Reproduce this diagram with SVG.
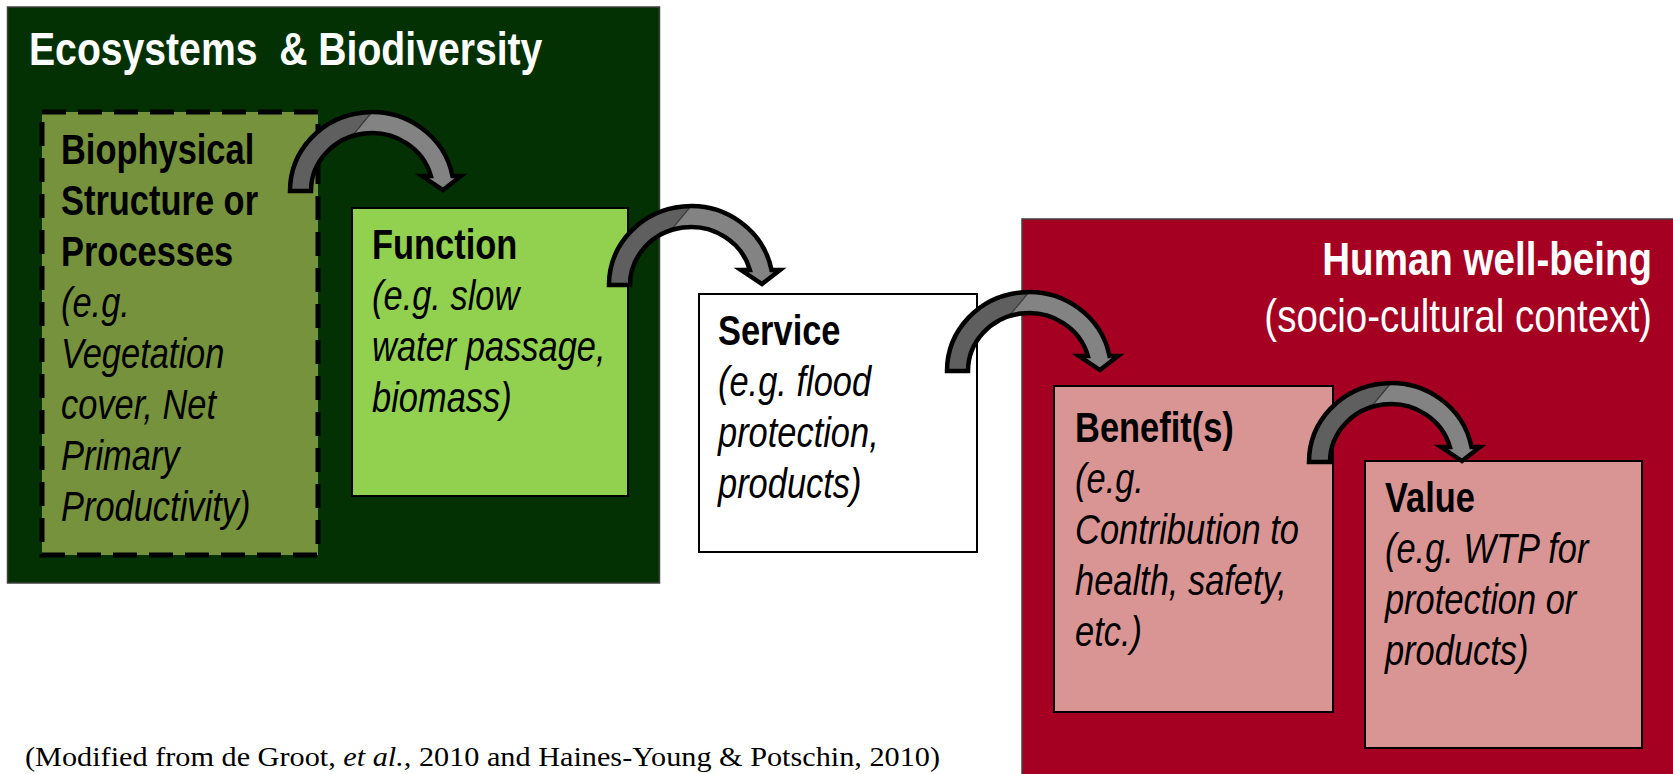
<svg xmlns="http://www.w3.org/2000/svg" xmlns:xlink="http://www.w3.org/1999/xlink" width="1673" height="774" viewBox="0 0 1673 774">
<style>
.t{font-family:"Liberation Sans",Arial,sans-serif;fill:#000}
.b{font-weight:bold;font-size:42px}
.i{font-style:italic;font-size:42px}
.w{fill:#fff}
.big{font-size:47px}
.box{stroke:#000;stroke-width:2}
.outer{stroke:#404040;stroke-width:1.5}
.dark{fill:#5f5f5f}
.light{fill:#838383}
.edge{fill:none;stroke:#000;stroke-width:4.5;stroke-linejoin:miter;stroke-miterlimit:6}
.seam{fill:none;stroke:#3a3a3a;stroke-width:1.2}
.cite{font-family:"Liberation Serif","Times New Roman",serif;font-size:28px;fill:#000}
</style>
<defs>
<g id="curvedArrow">
<path class="dark" d="M2,0 A82,79 0 0 1 84,-79 L64,-54.8 A61,58 0 0 0 23,0 Z"/>
<path class="light" d="M84,-79 A82,79 0 0 1 164.5,-15 L173,-15 L155,-1 L134,-15 L142.9,-15 A61,58 0 0 0 64,-54.8 Z"/>
<path class="seam" d="M84,-79 L64,-54.8"/>
<path class="edge" d="M2,0 A82,79 0 0 1 164.5,-15 L173,-15 L155,-1 L134,-15 L142.9,-15 A61,58 0 0 0 23,0 Z"/>
</g>
</defs>
<rect width="1673" height="774" fill="#fff"/>

<g id="ecosystems">
<rect class="outer" x="7.5" y="7" width="652" height="576" fill="#033103"/>
<g transform="scale(0.82 1)">
<text class="t b w big" x="35.4" y="65" textLength="626" lengthAdjust="spacingAndGlyphs" xml:space="preserve">Ecosystems  &amp; Biodiversity</text>
</g>
</g>

<g id="biophysical">
<rect x="42" y="112" width="276" height="443" fill="#76923c" stroke="#000" stroke-width="5" stroke-dasharray="24 12"/>
<g transform="scale(0.82 1)">
<text class="t b" x="74.4" y="164">Biophysical</text>
<text class="t b" x="74.4" y="215">Structure or</text>
<text class="t b" x="74.4" y="266">Processes</text>
<text class="t i" x="74.4" y="317">(e.g.</text>
<text class="t i" x="74.4" y="368">Vegetation</text>
<text class="t i" x="74.4" y="419">cover, Net</text>
<text class="t i" x="74.4" y="470">Primary</text>
<text class="t i" x="74.4" y="521">Productivity)</text>
</g>
</g>

<g id="function">
<rect class="box" x="352" y="208" width="276" height="288" fill="#92d050"/>
<g transform="scale(0.82 1)">
<text class="t b" x="453.7" y="259">Function</text>
<text class="t i" x="453.7" y="310">(e.g. slow</text>
<text class="t i" x="453.7" y="361">water passage,</text>
<text class="t i" x="453.7" y="412">biomass)</text>
</g>
</g>

<g id="service">
<rect class="box" x="699" y="294" width="278" height="258" fill="#fff"/>
<g transform="scale(0.82 1)">
<text class="t b" x="875.6" y="345">Service</text>
<text class="t i" x="875.6" y="396">(e.g. flood</text>
<text class="t i" x="875.6" y="447">protection,</text>
<text class="t i" x="875.6" y="498">products)</text>
</g>
</g>

<g id="human-wellbeing">
<rect class="outer" x="1022" y="219" width="670" height="580" fill="#a50021"/>
<g transform="scale(0.82 1)">
<text class="t b w big" x="2014.6" y="275" text-anchor="end">Human well-being</text>
<text class="t w big" x="2014.6" y="332" text-anchor="end">(socio-cultural context)</text>
</g>
</g>

<g id="benefits">
<rect class="box" x="1054" y="386" width="279" height="326" fill="#d99594"/>
<g transform="scale(0.82 1)">
<text class="t b" x="1311" y="442">Benefit(s)</text>
<text class="t i" x="1311" y="493">(e.g.</text>
<text class="t i" x="1311" y="544">Contribution to</text>
<text class="t i" x="1311" y="595">health, safety,</text>
<text class="t i" x="1311" y="646">etc.)</text>
</g>
</g>

<g id="value">
<rect class="box" x="1365" y="461" width="277" height="287" fill="#d99594"/>
<g transform="scale(0.82 1)">
<text class="t b" x="1689" y="512">Value</text>
<text class="t i" x="1689" y="563">(e.g. WTP for</text>
<text class="t i" x="1689" y="614">protection or</text>
<text class="t i" x="1689" y="665">products)</text>
</g>
</g>

<g id="connectors">
<use xlink:href="#curvedArrow" href="#curvedArrow" transform="translate(288 191)"/>
<use xlink:href="#curvedArrow" href="#curvedArrow" transform="translate(607 285)"/>
<use xlink:href="#curvedArrow" href="#curvedArrow" transform="translate(945 371)"/>
<use xlink:href="#curvedArrow" href="#curvedArrow" transform="translate(1307 462)"/>
</g>

<g id="citation">
<text class="cite" x="25" y="766" textLength="915" lengthAdjust="spacingAndGlyphs">(Modified from de Groot, <tspan font-style="italic">et al.</tspan>, 2010 and Haines-Young &amp; Potschin, 2010)</text>
</g>
</svg>
